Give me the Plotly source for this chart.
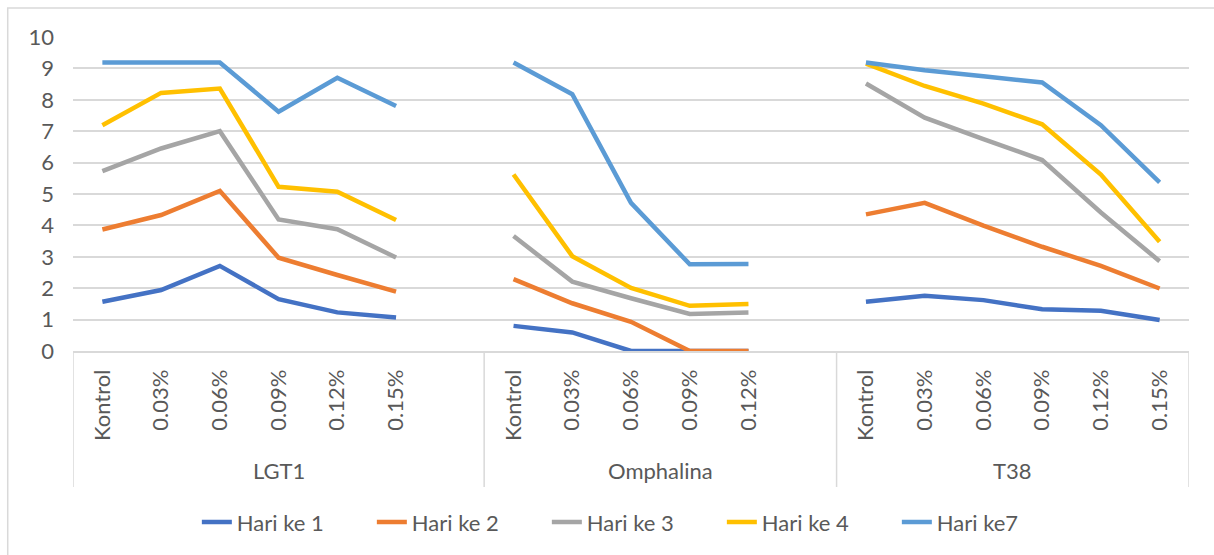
import plotly.graph_objects as go

# Category structure: isolate groups and their concentration levels
groups = ["LGT1", "Omphalina", "T38"]
conc_lgt1 = ["Kontrol", "0.03%", "0.06%", "0.09%", "0.12%", "0.15%"]
conc_omphalina = ["Kontrol", "0.03%", "0.06%", "0.09%", "0.12%"]
conc_t38 = ["Kontrol", "0.03%", "0.06%", "0.09%", "0.12%", "0.15%"]

# Series values, in order LGT1 (6), Omphalina (5), T38 (6)
series_names = ["Hari ke 1", "Hari ke 2", "Hari ke 3", "Hari ke 4", "Hari ke7"]
hari_1 = [1.57, 1.94, 2.71, 1.65, 1.23, 1.07,
          0.80, 0.59, 0.0, 0.0, 0.0,
          1.57, 1.76, 1.62, 1.33, 1.28, 0.99]
hari_2 = [3.87, 4.33, 5.10, 2.97, 2.42, 1.89,
          2.29, 1.52, 0.93, 0.0, 0.0,
          4.35, 4.72, 3.99, 3.32, 2.71, 1.99]
hari_3 = [5.73, 6.45, 7.00, 4.19, 3.88, 2.98,
          3.66, 2.21, 1.68, 1.18, 1.23,
          8.52, 7.43, 6.75, 6.08, 4.41, 2.86]
hari_4 = [7.19, 8.22, 8.36, 5.23, 5.07, 4.17,
          5.62, 3.02, 2.01, 1.44, 1.50,
          9.15, 8.44, 7.88, 7.22, 5.62, 3.48]
hari_7 = [9.19, 9.19, 9.19, 7.62, 8.70, 7.80,
          9.19, 8.18, 4.72, 2.76, 2.77,
          9.19, 8.94, 8.75, 8.55, 7.19, 5.37]

series_values = [hari_1, hari_2, hari_3, hari_4, hari_7]
series_colors = ["#4472C4", "#ED7D31", "#A5A5A5", "#FFC000", "#5B9BD5"]

text_color = "#595959"
grid_color = "#D9D9D9"
font_family = "Lato, 'Open Sans', sans-serif"
font_size = 22

# Slot layout: each group gets its categories plus one empty slot,
# except the last group.
group_cats = [conc_lgt1, conc_omphalina, conc_t38]
slot_labels = []
data_slots = []          # slot index for each data value
group_bounds = [-0.5]
slot = 0
for gi, cats in enumerate(group_cats):
    for c in cats:
        slot_labels.append(c)
        data_slots.append(slot)
        slot += 1
    if gi < len(group_cats) - 1:
        slot_labels.append("")
        slot += 1
    group_bounds.append(slot - 0.5)
n_slots = slot


def spread(values):
    """Place values onto the slot grid, leaving gaps at empty slots."""
    out = [None] * n_slots
    for s, v in zip(data_slots, values):
        out[s] = v
    return out


fig = go.Figure()
for name, vals, col in zip(series_names, series_values, series_colors):
    fig.add_trace(go.Scatter(
        x=list(range(n_slots)), y=spread(vals), name=name, mode="lines",
        line=dict(color=col, width=4.5), connectgaps=False,
    ))

# Dividers below the category axis
div_bottom = -0.433
for b in group_bounds:
    fig.add_shape(type="line", xref="x", yref="paper", x0=b, x1=b,
                  y0=0, y1=div_bottom, line=dict(color=grid_color, width=1.5))

# Group labels
for gi, g in enumerate(groups):
    fig.add_annotation(x=(group_bounds[gi] + group_bounds[gi + 1]) / 2,
                       y=-0.379, xref="x", yref="paper", text=g,
                       showarrow=False, yanchor="middle",
                       font=dict(family=font_family, size=font_size, color=text_color))

# Chart area border
fig.add_shape(type="rect", xref="paper", yref="paper",
              x0=-0.0585, x1=1.025, y0=-0.75, y1=1.0924,
              line=dict(color=grid_color, width=1.5), layer="below")

fig.update_layout(
    width=1214, height=555,
    margin=dict(l=73, r=25, t=37, b=204),
    plot_bgcolor="white", paper_bgcolor="white",
    font=dict(family=font_family, size=font_size, color=text_color),
    showlegend=True,
    legend=dict(orientation="h", x=0.503, xanchor="center",
                y=-0.545, yanchor="middle",
                entrywidth=130, entrywidthmode="pixels",
                font=dict(family=font_family, size=font_size, color=text_color)),
    xaxis=dict(range=[-0.5, n_slots - 0.5], tickmode="array",
               tickvals=list(range(n_slots)), ticktext=slot_labels,
               tickangle=-90, showgrid=False, zeroline=False,
               showline=True, linecolor=grid_color, linewidth=1.5,
               ticks="", ticklabelstandoff=8),
    yaxis=dict(range=[0, 10], dtick=1, showgrid=True, gridcolor=grid_color,
               gridwidth=1.5, zeroline=False, showline=False, ticks="",
               ticklabelstandoff=18),
)

fig.write_html("out.html")
